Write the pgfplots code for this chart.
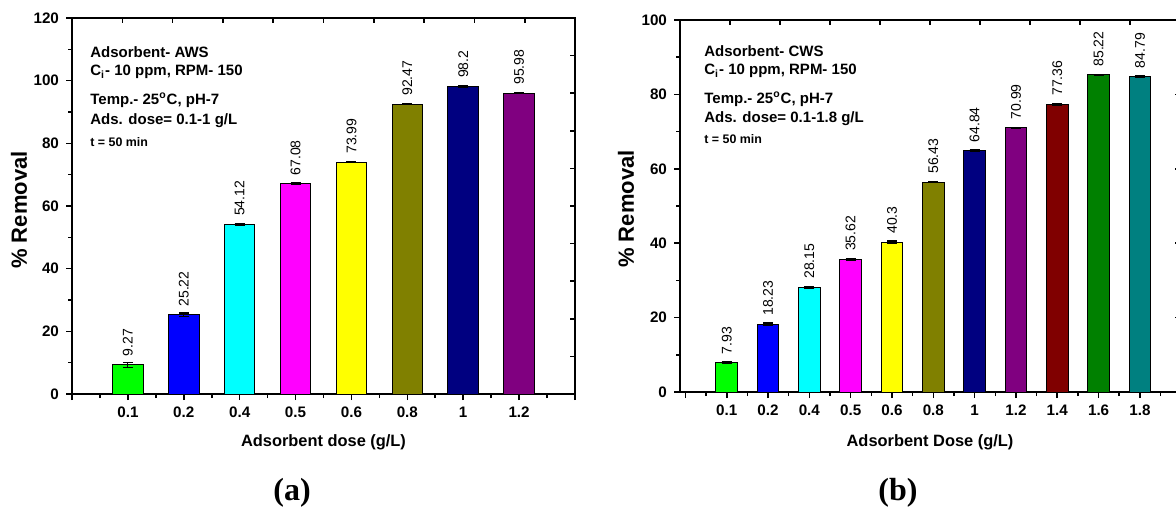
\documentclass[border=0pt]{standalone}
\usepackage{fontspec}
\setmainfont{Liberation Sans}
\newfontfamily\timesfont{Liberation Serif}
\usepackage{pgfplots}
\pgfplotsset{compat=1.18}

\definecolor{cgreen}{RGB}{0,255,0}
\definecolor{cblue}{RGB}{0,0,255}
\definecolor{ccyan}{RGB}{0,255,255}
\definecolor{cmagenta}{RGB}{255,0,255}
\definecolor{cyellow}{RGB}{255,255,0}
\definecolor{colive}{RGB}{128,128,0}
\definecolor{cnavy}{RGB}{0,0,128}
\definecolor{cpurple}{RGB}{128,0,128}
\definecolor{cwine}{RGB}{128,0,0}
\definecolor{cdgreen}{RGB}{0,128,0}
\definecolor{cteal}{RGB}{0,128,128}

\pgfplotsset{
  barbase/.style={
    scale only axis,
    ybar, bar shift=0pt,
    ymin=0,
    axis line style={line width=1pt},
    xtick pos=bottom, ytick pos=left,
    tick align=outside,
    major tick length=3pt, minor tick length=2pt,
    every tick/.style={black, line width=0.8pt},
    tick label style={font=\fontsize{7.6}{9}\selectfont\bfseries},
    /pgf/number format/assume math mode=true,
    nodes near coords,
    every node near coord/.append style={font=\fontsize{7}{8}\selectfont,
      rotate=90, anchor=west, inner sep=4pt, black},
    error bars/y dir=both, error bars/y explicit,
    error bars/error bar style={black, line width=0.6pt},
    error bars/error mark options={rotate=90, mark size=2.5pt, line width=0.6pt, black},
  },
  barcell/.style={fill=#1, draw=black, line width=0.5pt},
  frameticks/.style={
    scale only axis,
    axis line style={draw=none},
    xtick pos=top, ytick pos=right,
    tick align=inside,
    xticklabels={}, yticklabels={},
    major tick length=2.5pt,
    every tick/.style={black, line width=0.8pt},
  },
}

\begin{document}
\begin{tikzpicture}
% ---- panel (a)
\begin{axis}[barbase,
  at={(36pt,57.5pt)}, anchor=south west,
  width=251.5pt, height=188pt,
  bar width=15.25pt,
  xmin=0, xmax=9, ymax=120,
  xtick={0,...,9},
  xticklabels={,0.1,0.2,0.4,0.5,0.6,0.8,1,1.2,},
  minor x tick num=1,
  ytick={0,20,...,120}, minor y tick num=1,
]
\addplot[barcell=cgreen] coordinates {(1,9.27) +- (0,0.7)};
\addplot[barcell=cblue] coordinates {(2,25.22) +- (0,0.6)};
\addplot[barcell=ccyan] coordinates {(3,54.12) +- (0,0.3)};
\addplot[barcell=cmagenta] coordinates {(4,67.08) +- (0,0.25)};
\addplot[barcell=cyellow] coordinates {(5,73.99) +- (0,0.2)};
\addplot[barcell=colive] coordinates {(6,92.47) +- (0,0.2)};
\addplot[barcell=cnavy] coordinates {(7,98.2) +- (0,0.2)};
\addplot[barcell=cpurple] coordinates {(8,95.98) +- (0,0.2)};
\end{axis}
\begin{axis}[frameticks,
  at={(36pt,57.5pt)}, anchor=south west,
  width=251.5pt, height=188pt,
  xmin=0, xmax=10, ymin=0, ymax=10,
  xtick={1,...,9}, ytick={1,...,9},
]
\end{axis}

% ---- panel (b)
\begin{axis}[barbase,
  at={(340pt,58.5pt)}, anchor=south west,
  width=250pt, height=186pt,
  bar width=10.85pt,
  xmin=-0.13, xmax=11.97, ymax=100,
  xtick={0,...,11},
  xticklabels={,0.1,0.2,0.4,0.5,0.6,0.8,1,1.2,1.4,1.6,1.8},
  minor xtick={0.5,1.5,...,11.5},
  ytick={0,20,...,100}, minor y tick num=1,
]
\addplot[barcell=cgreen] coordinates {(1,7.93) +- (0,0.3)};
\addplot[barcell=cblue] coordinates {(2,18.23) +- (0,0.3)};
\addplot[barcell=ccyan] coordinates {(3,28.15) +- (0,0.3)};
\addplot[barcell=cmagenta] coordinates {(4,35.62) +- (0,0.3)};
\addplot[barcell=cyellow] coordinates {(5,40.3) +- (0,0.3)};
\addplot[barcell=colive] coordinates {(6,56.43) +- (0,0.2)};
\addplot[barcell=cnavy] coordinates {(7,64.84) +- (0,0.2)};
\addplot[barcell=cpurple] coordinates {(8,70.99) +- (0,0.2)};
\addplot[barcell=cwine] coordinates {(9,77.36) +- (0,0.2)};
\addplot[barcell=cdgreen] coordinates {(10,85.22) +- (0,0.2)};
\addplot[barcell=cteal] coordinates {(11,84.79) +- (0,0.2)};
\end{axis}
\begin{axis}[frameticks,
  at={(340pt,58.5pt)}, anchor=south west,
  width=250pt, height=186pt,
  xmin=0, xmax=10, ymin=0, ymax=5,
  xtick={1,...,9}, ytick={1,...,4},
]
\end{axis}

% ---- labels and notes
\begin{scope}[every node/.style={font=\fontsize{11}{13}\selectfont\bfseries}]
\node[rotate=90] at (9.5pt,149.5pt) {\% Removal};
\node[rotate=90] at (313pt,150pt) {\% Removal};
\end{scope}
\begin{scope}[every node/.style={font=\fontsize{8.2}{10}\selectfont\bfseries}]
\node at (161.75pt,33.5pt) {Adsorbent dose (g/L)};
\node at (465pt,33.5pt) {Adsorbent Dose (g/L)};
\end{scope}
\begin{scope}[every node/.style={anchor=west, inner sep=0pt, font=\fontsize{7.5}{9}\selectfont\bfseries}]
\node at (45pt,228.5pt) {Adsorbent- AWS};
\node at (45pt,218.5pt) {C\textsubscript{i}- 10 ppm, RPM- 150};
\node at (45pt,204.5pt) {Temp.- 25\textsuperscript{o}C, pH-7};
\node at (45pt,194pt) {Ads. dose= 0.1-1 g/L};
\node[font=\fontsize{6.2}{8}\selectfont\bfseries] at (45pt,183.5pt) {t = 50 min};
\node at (352pt,229pt) {Adsorbent- CWS};
\node at (352pt,219pt) {C\textsubscript{i}- 10 ppm, RPM- 150};
\node at (352pt,205pt) {Temp.- 25\textsuperscript{o}C, pH-7};
\node at (352pt,195pt) {Ads. dose= 0.1-1.8 g/L};
\node[font=\fontsize{6.2}{8}\selectfont\bfseries] at (352pt,185pt) {t = 50 min};
\end{scope}
\node[font=\timesfont\bfseries\fontsize{16}{18}\selectfont] at (146pt,8pt) {(a)};
\node[font=\timesfont\bfseries\fontsize{16}{18}\selectfont] at (449pt,8pt) {(b)};

\pgfresetboundingbox
\useasboundingbox (0,0) rectangle (588pt,254.5pt);
\end{tikzpicture}
\end{document}
